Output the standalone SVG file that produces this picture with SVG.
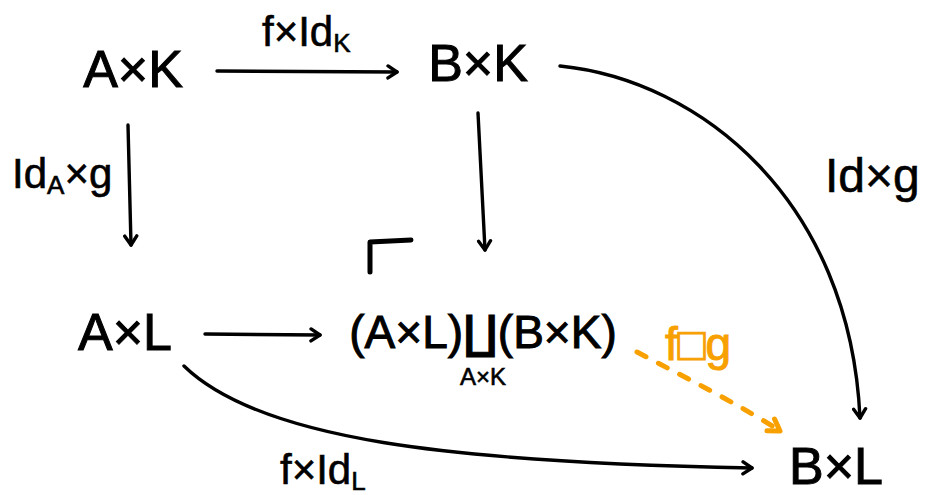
<svg xmlns="http://www.w3.org/2000/svg" width="936" height="495" viewBox="0 0 936 495">
<style>
.n{font-family:"Liberation Sans","DejaVu Sans",sans-serif;font-size:52px;fill:#000;stroke:#000;stroke-width:1}
.p{font-size:46px}
.l{font-family:"Liberation Sans","DejaVu Sans",sans-serif;font-size:42px;fill:#000;stroke:#000;stroke-width:0.6}
.s{font-size:26px}
.e{fill:none;stroke:#000;stroke-width:3.4;stroke-linecap:round}
.o{fill:none;stroke:#F7A000;stroke-width:5;stroke-linecap:round;stroke-dasharray:10 14}
</style>
<defs>
<marker id="ah" viewBox="-12 -8 14 16" markerWidth="14" markerHeight="16" refX="0" refY="0" orient="auto" markerUnits="userSpaceOnUse">
<path d="M-9,-6 L0,0 L-9,6" fill="none" stroke="#000" stroke-width="3.4" stroke-linecap="round" stroke-linejoin="round"/>
</marker>
<marker id="ao" viewBox="-16 -10 20 20" markerWidth="20" markerHeight="20" refX="0" refY="0" orient="auto" markerUnits="userSpaceOnUse">
<path d="M-11,-7 L0,0 L-11,7" fill="none" stroke="#F7A000" stroke-width="5" stroke-linecap="round" stroke-linejoin="round"/>
</marker>
</defs>
<rect width="936" height="495" fill="#fff"/>
<g id="connectors">
<path class="e" d="M217,71 L397,72" marker-end="url(#ah)"/>
<path class="e" d="M128,125 L131,245" marker-end="url(#ah)"/>
<path class="e" d="M478,113 L485,250" marker-end="url(#ah)"/>
<path class="e" d="M205,334 L320,335" marker-end="url(#ah)"/>
<path class="e" d="M560,66 C700,80 850,200 860,418" marker-end="url(#ah)"/>
<path class="e" d="M184,366 C260,440 450,462 752,468" marker-end="url(#ah)"/>
<path class="o" d="M637,352 C690,380 740,405 780,431" marker-end="url(#ao)"/>
<text class="l" x="262" y="46">f×Id<tspan class="s" dy="6">K</tspan></text>
<text class="l" x="12" y="188">Id<tspan class="s" dy="6">A</tspan><tspan dy="-6">×g</tspan></text>
<text class="l" x="825" y="192" style="font-size:48px">Id×g</text>
<text class="l" x="280" y="484">f×Id<tspan class="s" dy="6">L</tspan></text>
<text class="l" x="665" y="360" style="fill:#F7A000;stroke:#F7A000;stroke-width:1;font-size:46px">f□g</text>
</g>
<g id="corner">
<path d="M370,272 L370,242 L411,240" fill="none" stroke="#000" stroke-width="5" stroke-linecap="round" stroke-linejoin="round"/>
</g>
<g id="AxK"><text class="n" x="133" y="87" text-anchor="middle">A×K</text></g>
<g id="BxK"><text class="n" x="478" y="81" text-anchor="middle">B×K</text></g>
<g id="AxL"><text class="n" x="125" y="350" text-anchor="middle">A×L</text></g>
<g id="pushout">
<text class="n p" x="483" y="348" text-anchor="middle">(A×L)∐(B×K)</text>
<text class="l" x="483" y="385" text-anchor="middle" style="font-size:24px">A×K</text>
</g>
<g id="BxL"><text class="n" x="836" y="484" text-anchor="middle">B×L</text></g>
</svg>
